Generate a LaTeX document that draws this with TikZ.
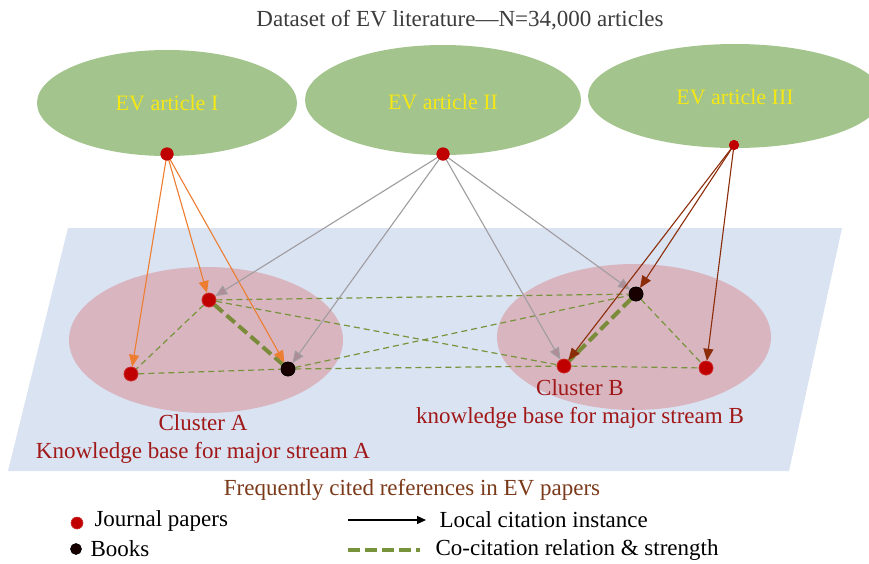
\documentclass[tikz,border=0pt]{standalone}
\usepackage{fontspec}
\setmainfont{Liberation Serif}
\usetikzlibrary{arrows.meta}
\definecolor{evgreen}{RGB}{163,197,141}
\definecolor{evyellow}{RGB}{246,232,20}
\definecolor{planeblue}{RGB}{218,227,242}
\definecolor{clpink}{RGB}{217,181,192}
\definecolor{dotred}{RGB}{192,0,0}
\definecolor{arrorange}{RGB}{237,125,49}
\definecolor{arrgray}{RGB}{160,156,160}
\definecolor{tipgray}{RGB}{176,140,150}
\definecolor{arrbrown}{RGB}{140,45,10}
\definecolor{cocit}{RGB}{119,147,60}
\definecolor{cocitthick}{RGB}{122,140,58}
\definecolor{cltext}{RGB}{160,24,24}
\definecolor{captext}{RGB}{123,58,26}
\definecolor{titlegray}{RGB}{60,60,60}
\tikzset{
  jdot/.style={circle,fill=dotred,draw=dotred!80!white,line width=0.6pt,inner sep=0pt,minimum size=14pt},
  bdot/.style={circle,fill=black!90!red,draw=black,line width=0.6pt,inner sep=0pt,minimum size=14pt},
  srcdot/.style={circle,fill=dotred,inner sep=0pt,minimum size=13pt},
  citeA/.style={draw=arrorange,line width=1.1pt,-{Triangle[length=12pt,width=10pt]}},
  citeB/.style={draw=arrgray,line width=1.1pt,-{Triangle[length=12pt,width=10pt,fill=tipgray]}},
  citeC/.style={draw=arrbrown,line width=1.1pt,-{Triangle[length=12pt,width=10pt]}},
  cocite/.style={draw=cocit,line width=1.2pt,dash pattern=on 6pt off 4pt},
  cocitestrong/.style={draw=cocitthick,line width=4pt,dash pattern=on 11pt off 5pt},
  artlabel/.style={text=evyellow,font=\fontsize{22}{26}\selectfont},
  cllabel/.style={text=cltext,font=\fontsize{23}{28}\selectfont,align=center},
  leglabel/.style={text=black,font=\fontsize{23}{26}\selectfont,anchor=west}
}
\begin{document}
\begin{tikzpicture}[x=1pt,y=-1pt]
\useasboundingbox (0,0) rectangle (869,563);
\fill[white] (0,0) rectangle (869,563);
% title
\node[text=titlegray,font=\fontsize{23}{26}\selectfont] (title) at (460,20) {Dataset of EV literature---N=34,000 articles};
% article ellipses
\fill[evgreen] (167,103) ellipse [x radius=130,y radius=53];
\fill[evgreen] (443,100) ellipse [x radius=138,y radius=55];
\fill[evgreen] (735,96) ellipse [x radius=147,y radius=52];
\node[artlabel] (t1) at (167,103) {EV article I};
\node[artlabel] (t2) at (443,102) {EV article II};
\node[artlabel] (t3) at (735,97) {EV article III};
% plane
\fill[planeblue] (68,228) -- (842,228) -- (789,471) -- (8,471) -- cycle;
% clusters
\fill[clpink] (206,340) ellipse [x radius=137,y radius=73];
\fill[clpink] (634,337) ellipse [x radius=137,y radius=73];
% reference nodes
\node[jdot] (a1) at (209,300) {};
\node[jdot] (a2) at (131,374) {};
\node[bdot] (a3) at (288,369) {};
\node[bdot] (b1) at (636,294) {};
\node[jdot] (b2) at (564,366) {};
\node[jdot] (b3) at (706,368) {};
% source nodes
\node[srcdot] (s1) at (167,154) {};
\node[srcdot] (s2) at (443,154) {};
\node[srcdot,minimum size=10pt] (s3) at (734,145) {};
% co-citation
\draw[cocite] (a1) -- (a2);
\draw[cocite] (a2) -- (a3);
\draw[cocite] (a1) -- (b1);
\draw[cocite] (a1) -- (b2);
\draw[cocite] (a3) -- (b1);
\draw[cocite] (a3) -- (b2);
\draw[cocite] (b2) -- (b3);
\draw[cocite] (b1) -- (b3);
\draw[cocitestrong] (a1) -- (a3);
\draw[cocitestrong] (b1) -- (b2);
% citations
\draw[citeA] (s1.center) -- (a2);
\draw[citeA] (s1.center) -- (a1);
\draw[citeA] (s1.center) -- (a3);
\draw[citeB] (s2.center) -- (a1);
\draw[citeB] (s2.center) -- (a3);
\draw[citeB] (s2.center) -- (b2);
\draw[citeB] (s2.center) -- (b1);
\draw[citeC] (s3.center) -- (b1);
\draw[citeC] (s3.center) -- (b2);
\draw[citeC] (s3.center) -- (b3);
% redraw nodes on top
\node[jdot] at (a1) {};
\node[jdot] at (a2) {};
\node[bdot] at (a3) {};
\node[bdot] at (b1) {};
\node[jdot] at (b2) {};
\node[jdot] at (b3) {};
\node[srcdot] at (s1) {};
\node[srcdot] at (s2) {};
\node[srcdot,minimum size=10pt] at (s3) {};
% cluster labels
\node[cllabel] (clA) at (203,439) {Cluster A\\Knowledge base for major stream A};
\node[cllabel] (clB) at (580,404) {Cluster B\\knowledge base for major stream B};
% caption
\node[text=captext,font=\fontsize{23}{26}\selectfont] (cap) at (412,490) {Frequently cited references in EV papers};
% legend
\node[jdot,minimum size=12pt] (lj) at (77,523) {};
\node[leglabel] (ljt) at (91,521) {Journal papers};
\node[bdot,minimum size=11pt] (lb) at (76,549) {};
\node[leglabel] (lbt) at (87,549) {Books};
\coordinate (la1) at (348,520);
\coordinate (la2) at (426,520);
\draw[black,line width=1.3pt,-{Triangle[length=9pt,width=8pt]}] (la1) -- (la2);
\node[leglabel] (lat) at (436,520) {Local citation instance};
\coordinate (ld1) at (348,550);
\coordinate (ld2) at (420,550);
\draw[draw=cocit,line width=4pt,dash pattern=on 12pt off 5pt] (ld1) -- (ld2);
\node[leglabel] (ldt) at (432,550) {Co-citation relation \& strength};
\end{tikzpicture}
\end{document}
